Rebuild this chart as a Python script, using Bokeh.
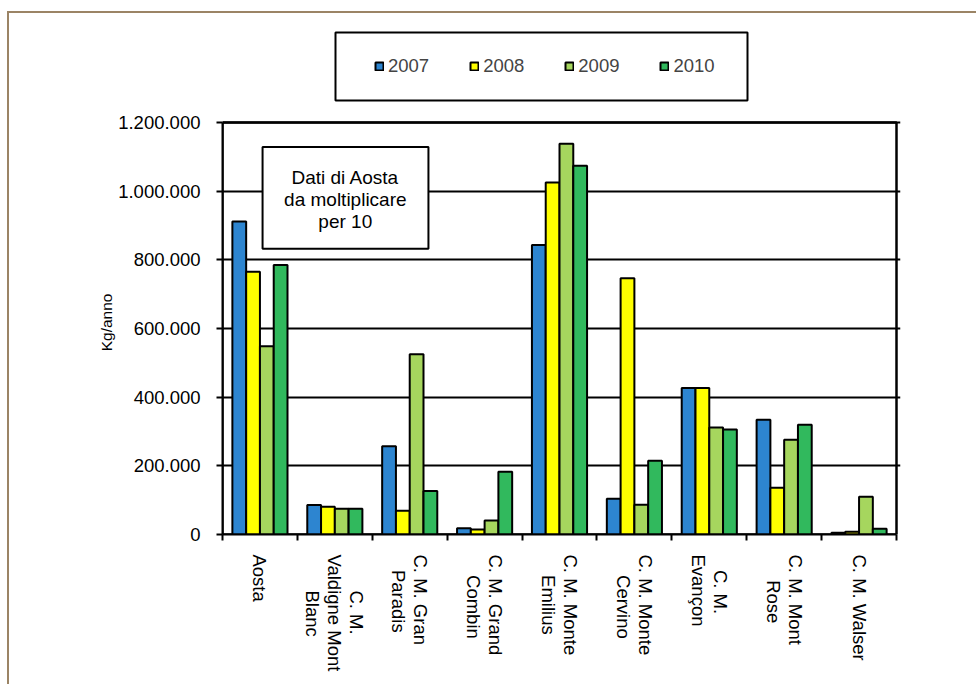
import math
import numpy as np
from bokeh.plotting import figure
from bokeh.models import (ColumnDataSource, FixedTicker, Legend, LegendItem,
                          BoxAnnotation, Label, InlineStyleSheet)
from bokeh.embed import file_html
from bokeh.resources import INLINE

# Production by collection area (Kg/anno); Aosta values are shown divided by 10
categories = ["Aosta", "C. M.\nValdigne Mont\nBlanc", "C. M. Gran\nParadis",
              "C. M. Grand\nCombin", "C. M. Monte\nEmilius", "C. M. Monte\nCervino",
              "C. M.\nEvançon", "C. M. Mont\nRose", "C. M. Walser"]
years = ["2007", "2008", "2009", "2010"]
v2007 = [912000, 86000, 257000, 18000, 843000, 104000, 427000, 334000, 5000]
v2008 = [765000, 81000, 69000, 14500, 1025000, 746000, 427000, 136000, 8000]
v2009 = [548000, 75000, 525000, 41000, 1138000, 87000, 312000, 276000, 110000]
v2010 = [785000, 75000, 127000, 183000, 1074000, 215000, 306000, 320000, 17000]
series = [v2007, v2008, v2009, v2010]
colors = ["#2d85d0", "#ffff00", "#a6d65e", "#31b95d"]
y_ticks = [0, 200000, 400000, 600000, 800000, 1000000, 1200000]
y_tick_labels = ["0", "200.000", "400.000", "600.000", "800.000", "1.000.000", "1.200.000"]
y_title = "Kg/anno"

FONT = "Liberation Sans"
TICK_SIZE = 18.5
YT_SIZE = 15.5
Y_MAX = 1200000
N = len(categories)

# approximate advance widths (em) of Liberation Sans, used to centre the
# lines of the rotated category names on each other
CHAR_W = {" ": .278, ".": .278, "A": .667, "B": .667, "C": .722, "E": .667, "G": .778,
          "M": .833, "P": .667, "R": .722, "V": .667, "W": .944, "a": .556, "b": .556,
          "c": .5, "ç": .5, "d": .556, "e": .556, "g": .556, "i": .222, "l": .222,
          "m": .833, "n": .556, "o": .556, "r": .333, "s": .5, "t": .278, "u": .556,
          "v": .5}
NBSP = "\u00a0"


def text_len(s):
    return sum(CHAR_W.get(ch, 0.556) for ch in s)


def centred(label):
    lines = label.split("\n")
    longest = max(text_len(line) for line in lines)
    out = []
    for line in lines:
        n = int(round((longest - text_len(line)) / 2 / CHAR_W[" "]))
        out.append(NBSP * n + line)
    return "\n".join(out)


# page geometry (px): the plot box spans 222..896 x 122..534; the drawing
# frame is a little larger so the legend box above it can be drawn too
BOX_L, BOX_R, BOX_T, BOX_B = 222, 896, 122, 534
FR_R, FR_T = 900, 28
W, H = 976, 684
x_end = N * (FR_R - BOX_L) / (BOX_R - BOX_L)
y_end = Y_MAX * (BOX_B - FR_T) / (BOX_B - BOX_T)

p = figure(width=W, height=H, x_range=(0, x_end), y_range=(0, y_end),
           output_backend="svg", toolbar_location=None,
           min_border_left=BOX_L, min_border_right=W - FR_R,
           min_border_top=FR_T, min_border_bottom=H - BOX_B)
p.background_fill_color = "white"
p.border_fill_color = "white"
p.outline_line_color = None

# brown panel frame along the top and left edges
p.stylesheets = [InlineStyleSheet(css=(
    ":host::after { content: ''; position: absolute; left: 7px; top: 11px; "
    "width: 980px; height: 700px; border-top: 2.5px solid #9b8465; "
    "border-left: 2.5px solid #9b8465; pointer-events: none; z-index: 100; }"))]

bar_w = 0.184
centers = np.arange(N) + 0.5
renderers = []
for i, (vals, col) in enumerate(zip(series, colors)):
    src = ColumnDataSource(dict(x=centers + (i - 1.5) * bar_w, top=vals))
    r = p.vbar(x="x", top="top", width=bar_w, bottom=0, source=src,
               fill_color=col, line_color="black", line_width=2)
    renderers.append(r)

# grid
p.xgrid.visible = False
p.ygrid.ticker = FixedTicker(ticks=y_ticks)
p.ygrid.grid_line_color = "black"
p.ygrid.grid_line_width = 2

# black border of the plot box
p.add_layout(BoxAnnotation(left=0, right=N, bottom=0, top=Y_MAX, fill_alpha=0,
                           line_color="black", line_width=2.5, line_alpha=1.0,
                           level="underlay"))

# y axis; the title is centred on the frame, so trailing blanks move it
# down to the middle of the plot box
frame_mid = (FR_T + BOX_B) / 2
box_mid = (BOX_T + BOX_B) / 2 - 6
pad = int(round(2 * (box_mid - frame_mid) / (CHAR_W[" "] * YT_SIZE)))
yax = p.yaxis[0]
yax.bounds = (0, Y_MAX)
yax.ticker = FixedTicker(ticks=y_ticks)
yax.major_label_overrides = {t: s for t, s in zip(y_ticks, y_tick_labels)}
yax.axis_line_width = 2
yax.major_tick_out = 6
yax.major_tick_in = 0
yax.major_tick_line_width = 2
yax.minor_tick_line_color = None
yax.major_label_standoff = 16
yax.major_label_text_font = FONT
yax.major_label_text_font_size = f"{TICK_SIZE}px"
yax.major_label_text_color = "black"
yax.axis_label = y_title + NBSP * pad
yax.axis_label_text_font = FONT
yax.axis_label_text_font_size = f"{YT_SIZE}px"
yax.axis_label_text_font_style = "normal"
yax.axis_label_text_color = "black"
yax.axis_label_standoff = 0

# x axis: boundary ticks between categories, names at the centres
xax = p.xaxis[0]
xax.bounds = (0, N)
xax.ticker = FixedTicker(ticks=list(centers), minor_ticks=list(range(N + 1)))
xax.major_label_overrides = {float(c): centred(lab) for c, lab in zip(centers, categories)}
xax.major_label_orientation = -math.pi / 2
xax.axis_line_width = 2
xax.major_tick_out = 0
xax.major_tick_in = 0
xax.minor_tick_out = 6
xax.minor_tick_in = 0
xax.minor_tick_line_width = 2
xax.major_label_standoff = 14
xax.major_label_text_font = FONT
xax.major_label_text_font_size = f"{TICK_SIZE}px"
xax.major_label_text_color = "black"
xax.major_label_text_line_height = 1.05

# note box inside the plot
note_box = BoxAnnotation(left=0.535, right=2.75, bottom=832000, top=1129000,
                         fill_color="white", fill_alpha=1.0,
                         line_color="black", line_width=2, line_alpha=1.0)
p.add_layout(note_box)
note = Label(x=1.64, y=976000, text="Dati di Aosta\nda moltiplicare\nper 10",
             text_align="center", text_baseline="middle", text_font=FONT,
             text_font_size="19px", text_color="black", text_line_height=1.05)
p.add_layout(note)

# legend box above the plot box (screen units measured from the frame's bottom-left)
LG_L, LG_R, LG_T, LG_B = 335, 747, 32, 100
p.add_layout(BoxAnnotation(left=LG_L - BOX_L, right=LG_R - BOX_L,
                           top=BOX_B - LG_T, bottom=BOX_B - LG_B,
                           left_units="screen", right_units="screen",
                           top_units="screen", bottom_units="screen",
                           fill_color="white", fill_alpha=1.0,
                           line_color="black", line_width=2, line_alpha=1.0))

legend = Legend(items=[LegendItem(label=y, renderers=[r]) for y, r in zip(years, renderers)],
                orientation="horizontal", location=(374 - BOX_L, BOX_B - 77),
                glyph_width=10, glyph_height=10, label_standoff=4, spacing=40,
                padding=0, margin=0, border_line_color=None,
                label_text_font=FONT, label_text_font_size=f"{TICK_SIZE}px",
                background_fill_alpha=0)
p.add_layout(legend, "center")

open("out.html", "w").write(file_html(p, INLINE))
